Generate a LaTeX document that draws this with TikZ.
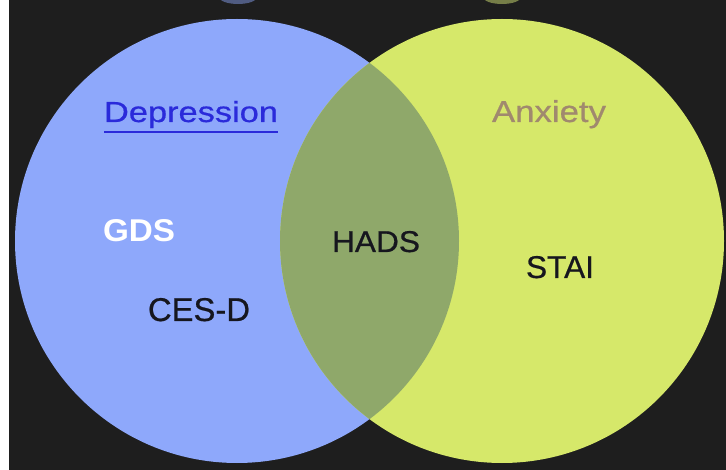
\documentclass[tikz,border=0pt]{standalone}
\usepackage{fontspec}
\setmainfont{Liberation Sans}
\newfontfamily\medfont{Liberation Sans}[BoldFont={Liberation Sans}, BoldFeatures={FakeBold=0.6}]
\usepackage{graphicx}
\definecolor{bgdark}{RGB}{30,30,30}
\definecolor{vblue}{RGB}{142,168,251}
\definecolor{vyellow}{RGB}{214,232,106}
\definecolor{voverlap}{RGB}{143,168,106}
\definecolor{dblue}{RGB}{42,42,218}
\definecolor{anxbrown}{RGB}{160,137,110}
\definecolor{txtdark}{RGB}{22,22,30}
\definecolor{dimblue}{RGB}{80,92,130}
\definecolor{dimyellow}{RGB}{118,126,72}
\begin{document}
\begin{tikzpicture}[x=1pt,y=-1pt,
  lbl/.style={anchor=base west, inner sep=0pt, outer sep=0pt, font=\medfont\bfseries},
  setcircle/.style={circle, inner sep=0pt, minimum size=444pt}]
\useasboundingbox (0,0) rectangle (726,470);
\fill[bgdark] (0,0) rectangle (726,470);
\fill[white] (0,0) rectangle (9,470);
\begin{scope}
  \clip (9,0) rectangle (726,470);
  \fill[dimblue] (238,-3) ellipse (19 and 7);
  \fill[dimyellow] (502,-3) ellipse (19 and 7);
\end{scope}
\node[setcircle, fill=vblue] (dep) at (237,241) {};
\node[setcircle, fill=vyellow] (anx) at (502,241) {};
\begin{scope}
  \clip (237,241) circle (222);
  \fill[voverlap] (502,241) circle (222);
\end{scope}
\node[lbl, text=dblue] (dtext) at (104,122) {\resizebox{174pt}{21pt}{Depression}};
\draw[dblue, line width=2pt] ([yshift=-10pt]dtext.base west) -- ([yshift=-10pt]dtext.base east);
\node[lbl, text=anxbrown] (atext) at (492,122) {\resizebox{114pt}{22pt}{Anxiety}};
\node[lbl, text=white, font=\rmfamily\bfseries] (gds) at (103,242) {\resizebox{72pt}{22pt}{GDS}};
\node[lbl, text=txtdark] (hads) at (332,252) {\resizebox{88pt}{21pt}{HADS}};
\node[lbl, text=txtdark] (cesd) at (148,321) {\resizebox{102pt}{23pt}{CES-D}};
\node[lbl, text=txtdark] (stai) at (526,278) {\resizebox{68pt}{22pt}{STAI}};
\end{tikzpicture}
\end{document}
